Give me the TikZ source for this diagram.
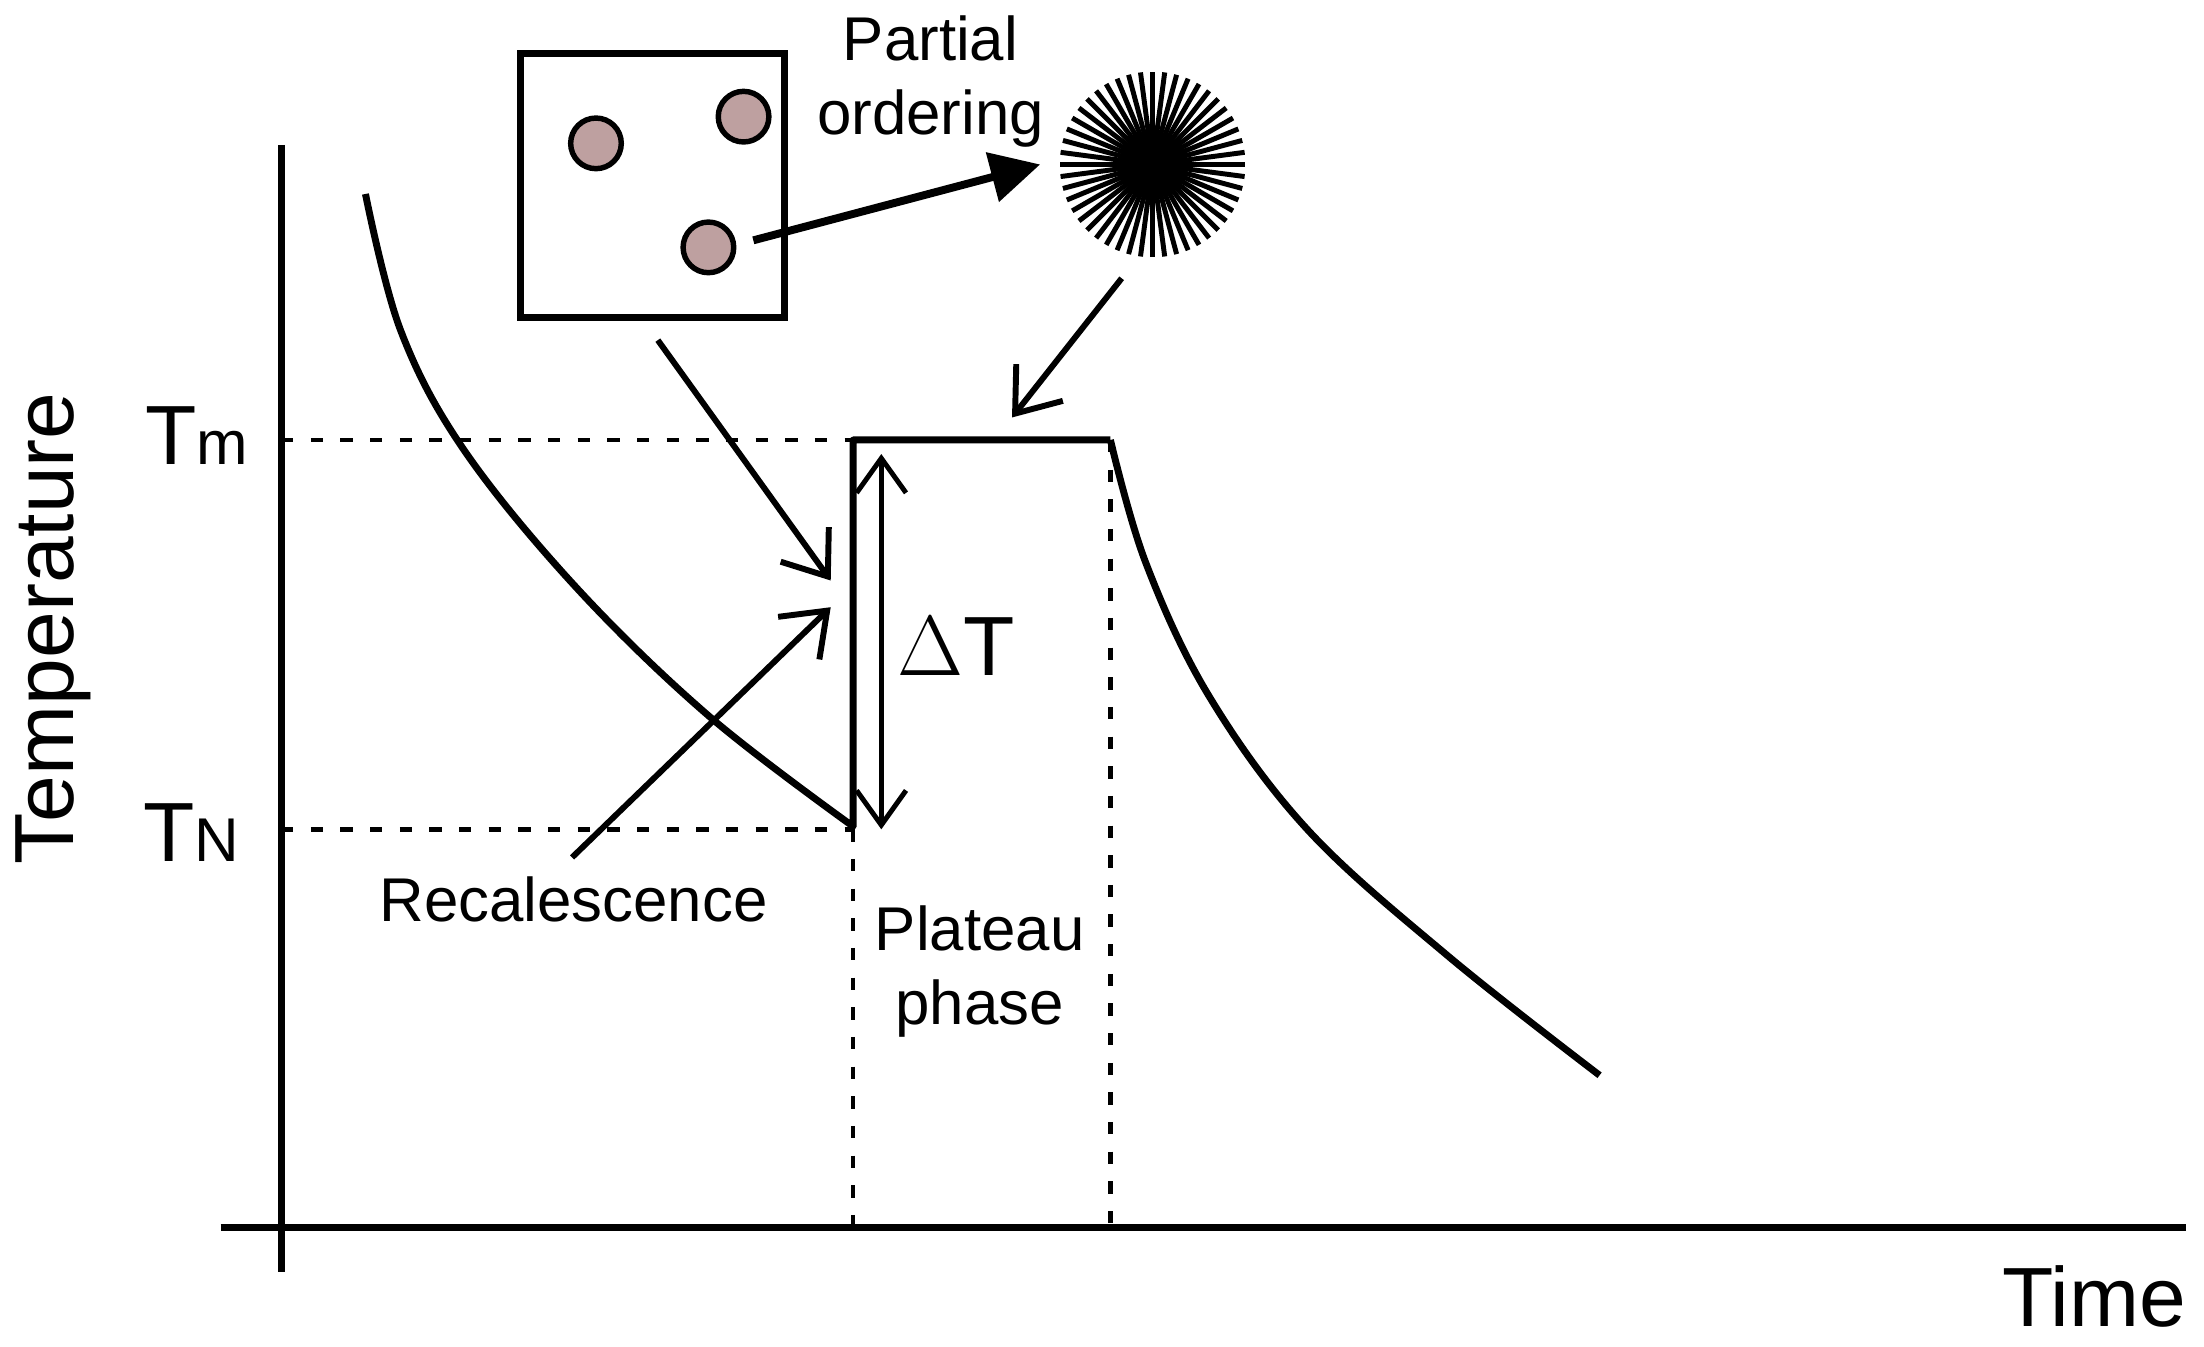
\documentclass[tikz,border=0pt]{standalone}
\usepackage{fontspec}
\setmainfont{Liberation Sans}
\usetikzlibrary{arrows.meta}
\definecolor{dot}{RGB}{190,160,160}
\begin{document}
\begin{tikzpicture}[x=0.01cm,y=-0.01cm,
  ln/.style={line width=1.4pt},
  dt/.style={line width=0.9pt,dash pattern=on 2.5pt off 3.5pt},
  ar/.style={line width=1.2pt,-{Straight Barb[length=8pt,width=12pt,line width=1.2pt]}},
  big/.style={font=\fontsize{17}{20}\selectfont},
  sm/.style={font=\fontsize{12.5}{15}\selectfont,align=center},
  part/.style={circle,draw,line width=1.1pt,fill=dot,minimum size=0.36cm,inner sep=0pt}]
\useasboundingbox (0,0) rectangle (1568,958);
% axes
\draw[ln] (200,103) -- (200,905);
\draw[ln] (157,873) -- (1555,873);
\node[big,rotate=90] (temp) at (38,447) {Temperature};
\node[big] (time) at (1490,922) {Time};
\node[big] (tm) at (140,310) {T\fontsize{12.5}{15}\selectfont m};
\node[big] (tn) at (136,592) {T\fontsize{12.5}{15}\selectfont N};
% dotted
\draw[dt] (200,313) -- (607,313);
\draw[dt] (200,590) -- (607,590);
\draw[dt] (607,590) -- (607,873);
\draw[dt] (790,313) -- (790,873);
% curve
\draw[ln,line join=round] plot[smooth,tension=0.6] coordinates {(260,138) (285,235) (330,320) (410,418) (505,510) (607,588)}
  -- (607,313) -- (790,313)
  plot[smooth,tension=0.6] coordinates {(790,313) (815,400) (860,495) (930,590) (1030,680) (1138,765)};
% delta T
\draw[line width=1pt,{Straight Barb[length=7pt,width=10pt]}-{Straight Barb[length=7pt,width=10pt]}] (627,323) -- (627,590);
\node[big] (dT) at (680,460) {$\Delta$T};
% box
\draw[ln] (370,38) rectangle (558,226);
\node[part] (c1) at (424,102) {};
\node[part] (c2) at (529,83) {};
\node[part] (c3) at (504,176) {};
% starburst
\coordinate (sb) at (820,117);
\foreach \a in {0,7.5,...,355}{\draw[line width=1pt] (sb) -- ++(\a:0.66cm);}
\fill (sb) circle (0.13cm);
\node[sm] (po) at (662,58) {Partial\\ordering};
\draw[line width=1.6pt,-{Triangle[length=10pt,width=10pt]}] (c3.east) ++(12,-5) -- (740,117);
% arrows
\coordinate (a1) at (798,198); \coordinate (a1e) at (720,297);
\draw[ar] (a1) -- (a1e);
\coordinate (a2) at (468,242); \coordinate (a2e) at (591,413);
\draw[ar] (a2) -- (a2e);
\coordinate (a3) at (407,610); \coordinate (a3e) at (591,432);
\draw[ar] (a3) -- (a3e);
\node[sm] (rec) at (408,640) {Recalescence};
\node[sm] (pl) at (697,691) {Plateau\\phase};
\end{tikzpicture}
\end{document}
